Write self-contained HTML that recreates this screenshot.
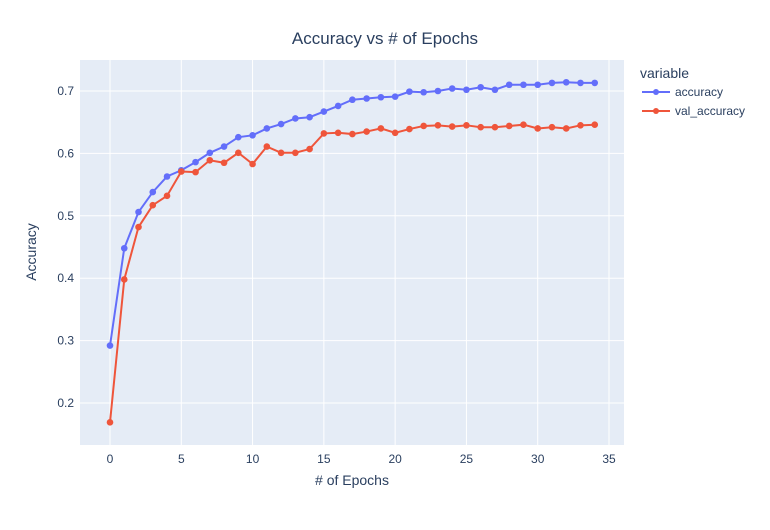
<!DOCTYPE html>
<html><head><meta charset="utf-8"><style>
body{margin:0;background:#fff;font-family:"Liberation Sans",sans-serif}
text{font-family:"Liberation Sans",sans-serif}
</style></head><body>
<svg id="chart" width="770" height="525">
<rect x="0" y="0" width="770" height="525" fill="#fff"/>
<rect x="80" y="60" width="544" height="385" fill="#e5ecf6"/>
<g id="grid"></g><g id="series"></g><g id="ticks"></g>
<text x="385" y="44" text-anchor="middle" font-size="17" fill="#2a3f5f">Accuracy vs # of Epochs</text>
<text x="352" y="485" text-anchor="middle" font-size="14" fill="#2a3f5f"># of Epochs</text>
<text transform="translate(36,252) rotate(-90)" text-anchor="middle" font-size="14" fill="#2a3f5f">Accuracy</text>
<g>
<text x="640" y="78" font-size="14" fill="#2a3f5f">variable</text>
<g><line x1="642" y1="92" x2="670" y2="92" stroke="#636efa" stroke-width="2"/><circle cx="656" cy="92" r="3" fill="#636efa"/><text x="675" y="96" font-size="12" fill="#2a3f5f">accuracy</text></g>
<g><line x1="642" y1="111" x2="670" y2="111" stroke="#ef553b" stroke-width="2"/><circle cx="656" cy="111" r="3" fill="#ef553b"/><text x="675" y="115" font-size="12" fill="#2a3f5f">val_accuracy</text></g>
</g>
</svg>
<script>
const epochs=[...Array(35).keys()];
const accuracy=[0.292,0.448,0.506,0.538,0.563,0.573,0.586,0.601,0.611,0.626,0.629,0.640,0.647,0.656,0.658,0.667,0.676,0.686,0.688,0.690,0.691,0.699,0.698,0.700,0.704,0.702,0.706,0.702,0.710,0.710,0.710,0.713,0.714,0.713,0.713];
const valAccuracy=[0.169,0.398,0.482,0.517,0.532,0.571,0.570,0.589,0.585,0.601,0.583,0.611,0.601,0.601,0.607,0.632,0.633,0.631,0.635,0.640,0.633,0.639,0.644,0.645,0.643,0.645,0.642,0.642,0.644,0.646,0.640,0.642,0.640,0.645,0.646];
const xTicks=[0,5,10,15,20,25,30,35];
const yTicks=[0.2,0.3,0.4,0.5,0.6,0.7];
const NS="http://www.w3.org/2000/svg";
const xs=v=>110+v*(609-110)/35;
const ys=v=>403-(v-0.2)*624;
function mk(t,a,p){const e=document.createElementNS(NS,t);for(const k in a)e.setAttribute(k,a[k]);p.appendChild(e);return e;}
const grid=document.getElementById('grid'),ticks=document.getElementById('ticks'),ser=document.getElementById('series');
xTicks.forEach(t=>{
 const l=mk('line',{x1:xs(t),x2:xs(t),y1:60,y2:445,stroke:'#fff','stroke-width':1},grid);
 
 
 const tx=mk('text',{x:xs(t),y:463,'text-anchor':'middle','font-size':12,fill:'#2a3f5f'},ticks);tx.textContent=t;
 
 
});
yTicks.forEach(t=>{
 const l=mk('line',{x1:80,x2:624,y1:ys(t),y2:ys(t),stroke:'#fff','stroke-width':1},grid);
 
 
 const tx=mk('text',{x:74,y:ys(t)+4,'text-anchor':'end','font-size':12,fill:'#2a3f5f'},ticks);tx.textContent=t.toFixed(1);
 
 
});
[[accuracy,'#636efa','accuracy'],[valAccuracy,'#ef553b','val-accuracy']].forEach(([d,c,n])=>{
 const pl=mk('polyline',{points:d.map((v,i)=>xs(epochs[i])+','+ys(v)).join(' '),fill:'none',stroke:c,'stroke-width':2},ser);
 
 
 d.forEach((v,i)=>{const p=mk('circle',{cx:xs(epochs[i]),cy:ys(v),r:3.3,fill:c},ser);
  
  });
});
</script>
</body></html>
